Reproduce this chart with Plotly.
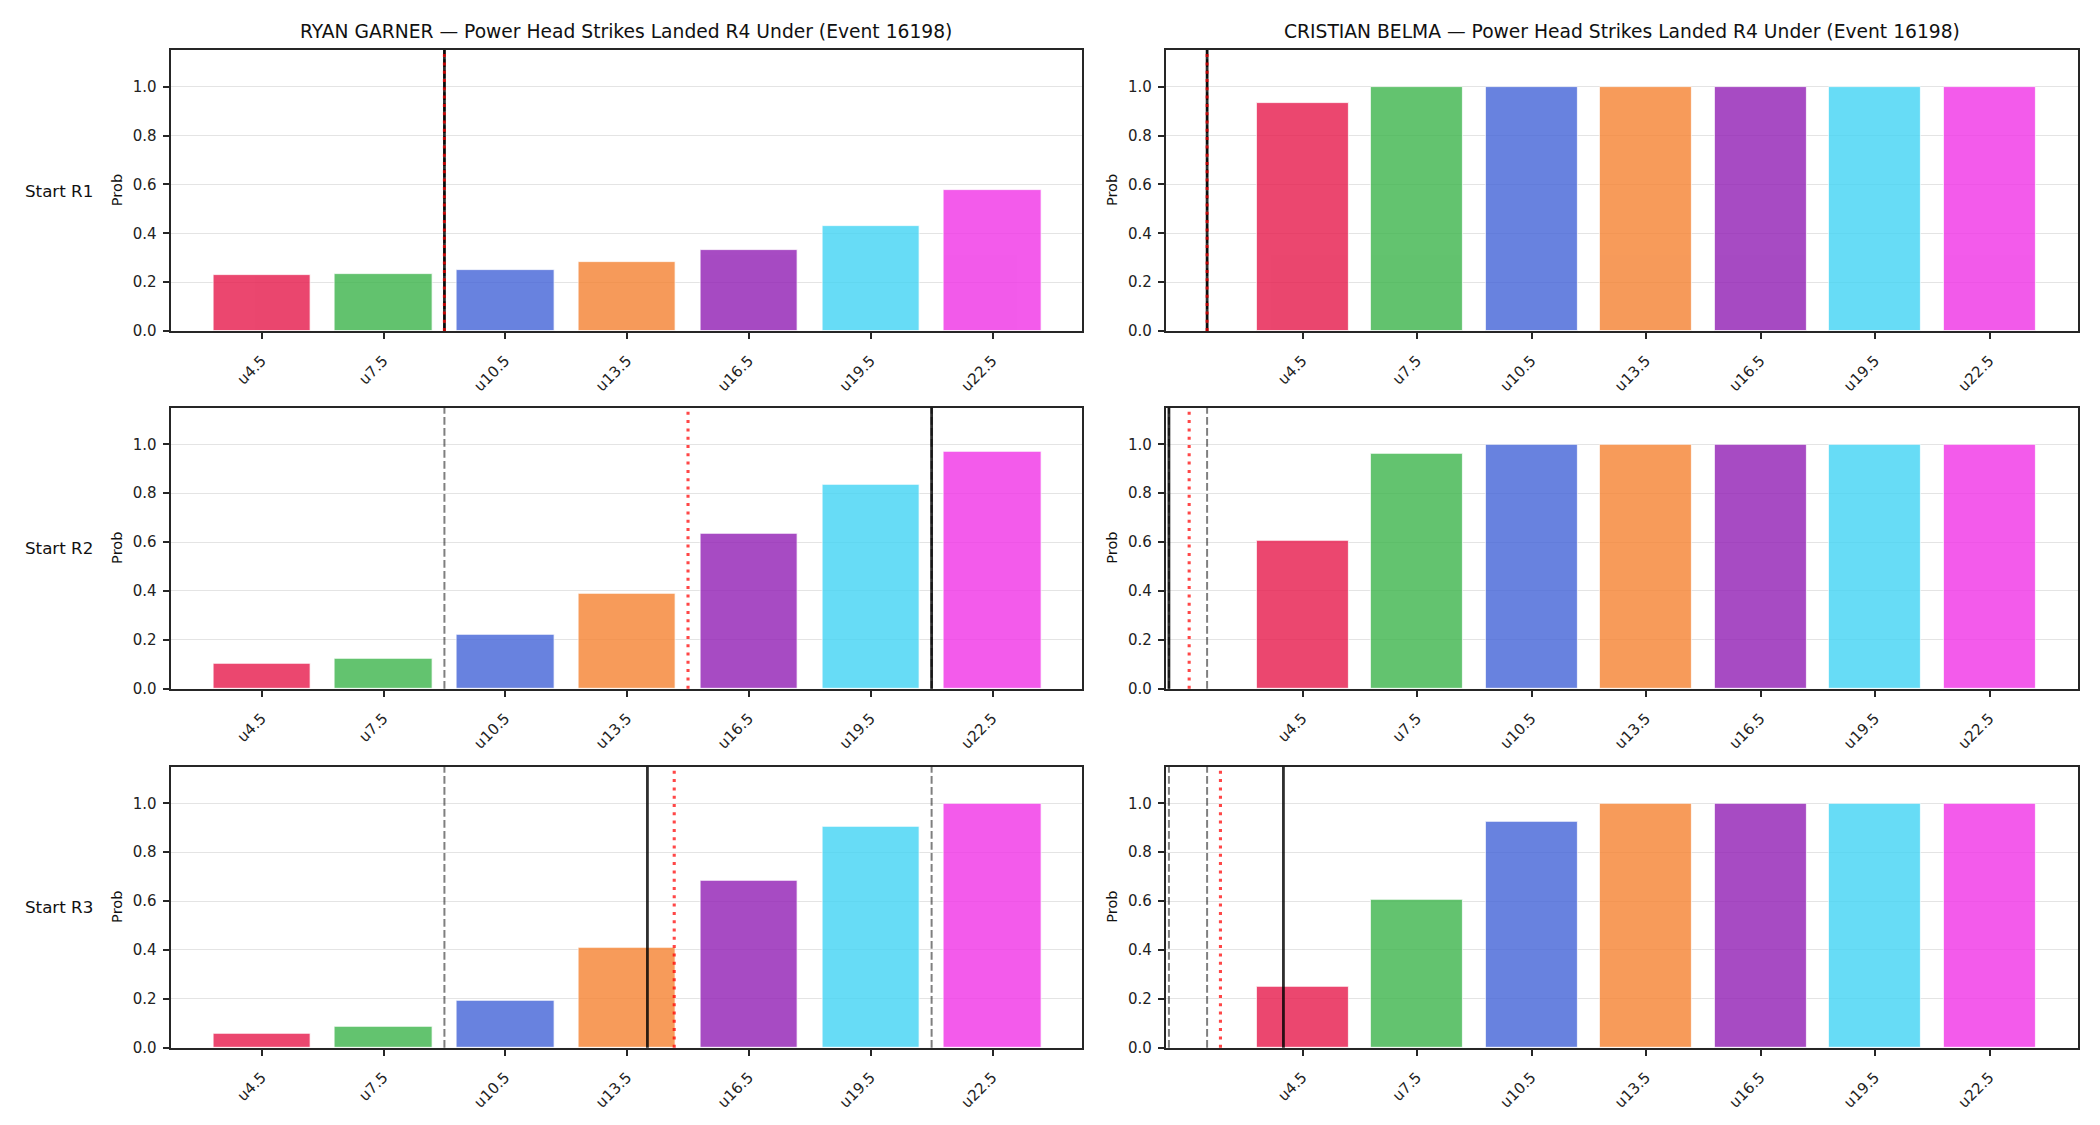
import plotly.graph_objects as go

# ---------------- data ----------------
thresholds = [4.5, 7.5, 10.5, 13.5, 16.5, 19.5, 22.5]
tick_labels = ["u4.5", "u7.5", "u10.5", "u13.5", "u16.5", "u19.5", "u22.5"]
fighters = ["RYAN GARNER", "CRISTIAN BELMA"]
start_rounds = ["Start R1", "Start R2", "Start R3"]
market = "Power Head Strikes Landed R4 Under (Event 16198)"

garner_r1 = [0.230, 0.234, 0.250, 0.283, 0.330, 0.431, 0.579]
garner_r2 = [0.101, 0.122, 0.220, 0.389, 0.635, 0.834, 0.971]
garner_r3 = [0.056, 0.085, 0.191, 0.408, 0.682, 0.903, 0.997]

belma_r1 = [0.932, 0.998, 0.998, 0.998, 0.998, 0.998, 0.998]
belma_r2 = [0.606, 0.963, 0.997, 0.998, 0.998, 0.998, 0.998]
belma_r3 = [0.248, 0.607, 0.925, 0.997, 0.998, 0.998, 0.998]

bar_colors = ["#e6194b", "#3cb44b", "#4363d8", "#f58231", "#911eb4", "#42d4f4", "#f032e6"]

# reference lines, in strikes landed (per start round R1..R3)
garner_solid = [9, 21, 14]
garner_mean = [9, 15, 14.66]
garner_band_lo = [9, 9, 9]
garner_band_hi = [9, 21, 21]

belma_solid = [2, 1, 4]
belma_mean = [2, 1.53, 2.35]
belma_band_lo = [2, 1, 1]
belma_band_hi = [2, 2, 2]

# ---------------- layout helpers ----------------
W, H = 2100, 1125
FONT = "DejaVu Sans"
col_px = [(170.5, 1082.4), (1165.8, 2077.9)]
row_px = [(50.0, 331.0), (407.7, 688.7), (766.7, 1047.7)]
col_xrange = [[2.253, 24.714], [0.918, 24.816]]

panel_values = [[garner_r1, belma_r1], [garner_r2, belma_r2], [garner_r3, belma_r3]]
solid = [garner_solid, belma_solid]
mean = [garner_mean, belma_mean]
band_lo = [garner_band_lo, belma_band_lo]
band_hi = [garner_band_hi, belma_band_hi]

fig = go.Figure()
layout = dict(
    width=W, height=H,
    margin=dict(l=0, r=0, t=0, b=0, pad=0, autoexpand=False),
    paper_bgcolor="white", plot_bgcolor="white",
    showlegend=False,
    font=dict(family=FONT, color="#222222"),
    bargap=0,
)
shapes = []
annotations = []

for r in range(3):
    for c in range(2):
        k = r * 2 + c + 1
        xn = "x" if k == 1 else f"x{k}"
        yn = "y" if k == 1 else f"y{k}"
        xa = "xaxis" if k == 1 else f"xaxis{k}"
        ya = "yaxis" if k == 1 else f"yaxis{k}"

        fig.add_trace(go.Bar(
            x=thresholds, y=panel_values[r][c], width=2.4,
            marker=dict(color=bar_colors, line=dict(color="white", width=0.8)),
            opacity=0.8, xaxis=xn, yaxis=yn, hoverinfo="x+y",
        ))

        x0, x1 = col_px[c]
        yt, yb = row_px[r]
        layout[xa] = dict(
            domain=[x0 / W, x1 / W], anchor=yn, range=col_xrange[c],
            tickmode="array", tickvals=thresholds, ticktext=tick_labels,
            tickangle=-45, tickfont=dict(size=15, family=FONT, color="#222"),
            showgrid=False, zeroline=False, showline=True, mirror=True,
            linecolor="#262626", linewidth=2, automargin=False,
            ticks="outside", ticklen=6, tickwidth=1.6, tickcolor="#262626",
            ticklabelstandoff=7,
        )
        layout[ya] = dict(
            domain=[1 - yb / H, 1 - yt / H], anchor=xn, range=[0, 1.15],
            tickmode="array", tickvals=[0, 0.2, 0.4, 0.6, 0.8, 1.0],
            tickformat=".1f", tickfont=dict(size=15, family=FONT, color="#222"),
            showgrid=True, gridcolor="#e4e4e4", gridwidth=1.2,
            zeroline=False, showline=True, mirror=True,
            linecolor="#262626", linewidth=2, automargin=False,
            ticks="outside", ticklen=6, tickwidth=1.6, tickcolor="#262626",
            ticklabelstandoff=3,
        )

        def vline(xv, color, width, dash):
            shapes.append(dict(
                type="line", xref=xn, yref=f"{yn} domain", x0=xv, x1=xv, y0=0, y1=1,
                line=dict(color=color, width=width, dash=dash), layer="above",
            ))

        vline(band_lo[c][r], "rgba(0,0,0,0.5)", 2, "7.7px,3.3px")
        vline(band_hi[c][r], "rgba(0,0,0,0.5)", 2, "7.7px,3.3px")
        vline(solid[c][r], "rgba(0,0,0,0.82)", 2.8, "solid")
        vline(mean[c][r], "rgba(255,0,0,0.72)", 3.1, "3px,5.3px")

        # "Prob" y-axis label
        prob_x = [116.7, 1111.6][c]
        annotations.append(dict(
            text="Prob", xref="paper", yref="paper",
            x=prob_x / W, y=1 - (yt + yb) / 2 / H, textangle=-90,
            showarrow=False, xanchor="center", yanchor="middle",
            font=dict(size=14.6, family=FONT, color="#111"),
        ))

    # row label
    yt, yb = row_px[r]
    annotations.append(dict(
        text=start_rounds[r], xref="paper", yref="paper",
        x=23 / W, y=1 - (yt + yb) / 2 / H, showarrow=False,
        xanchor="left", yanchor="middle",
        font=dict(size=16.7, family=FONT, color="#111"),
    ))

for c in range(2):
    x0, x1 = col_px[c]
    annotations.append(dict(
        text=f"{fighters[c]} — {market}", xref="paper", yref="paper",
        x=(x0 + x1) / 2 / W, y=1 - 31.7 / H, showarrow=False,
        xanchor="center", yanchor="middle",
        font=dict(size=18.7, family=FONT, color="#111"),
    ))

layout["shapes"] = shapes
layout["annotations"] = annotations
fig.update_layout(**layout)
fig.write_html("out.html")
